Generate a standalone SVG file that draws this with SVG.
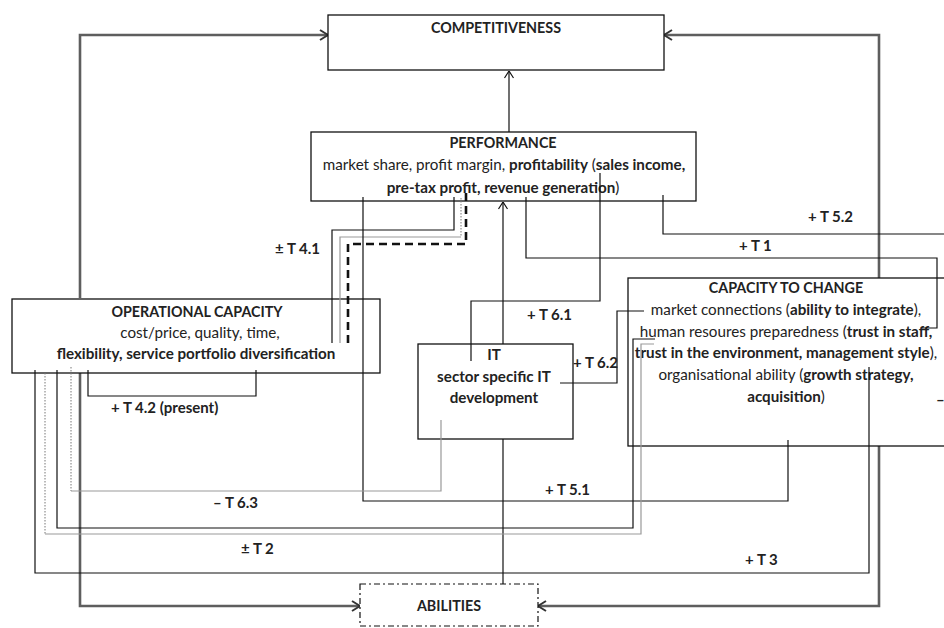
<svg xmlns="http://www.w3.org/2000/svg" width="944" height="628" viewBox="0 0 944 628">
<style>
.box{fill:#fff;stroke:#111;stroke-width:1.3}
.t{font-family:Lato,"Liberation Sans",sans-serif;font-size:15.2px;fill:#222;text-anchor:middle}
.h{font-size:14.3px;font-weight:bold}
.b{font-weight:bold}
.lbl{font-family:Lato,"Liberation Sans",sans-serif;font-size:15px;font-weight:bold;fill:#222}
.c{fill:none;stroke:#111;stroke-width:1.2}
.g{fill:none;stroke:#999;stroke-width:1.2}
.d{fill:none;stroke:#777;stroke-width:1;stroke-dasharray:1.5 1.5}
.big{fill:none;stroke:#5e5e5e;stroke-width:2.6}
.dash{fill:none;stroke:#111;stroke-width:2.6;stroke-dasharray:8 5}
</style>
<defs>
<marker id="bigArrow" viewBox="0 0 10 12" refX="9" refY="6" markerWidth="10" markerHeight="12" markerUnits="userSpaceOnUse" orient="auto">
<path d="M1,1 L9,6 L1,11" fill="none" stroke="#333" stroke-width="2"/>
</marker>
<marker id="thinArrow" viewBox="0 0 8 10" refX="7.5" refY="5" markerWidth="8" markerHeight="10" markerUnits="userSpaceOnUse" orient="auto">
<path d="M0.5,0.5 L7.5,5 L0.5,9.5" fill="none" stroke="#111" stroke-width="1.2"/>
</marker>
</defs>
<rect width="944" height="628" fill="#fff"/>

<g id="feedback-loops">
<path class="big" d="M80,298 L80,35 L328,35" marker-end="url(#bigArrow)"/>
<path class="big" d="M80,373 L80,606 L360,606" marker-end="url(#bigArrow)"/>
<path class="big" d="M879,278 L879,35 L664,35" marker-end="url(#bigArrow)"/>
<path class="big" d="M879,446 L879,606 L538,606" marker-end="url(#bigArrow)"/>
</g>

<g id="competitiveness">
<rect class="box" x="328" y="15" width="336" height="55"/>
<text class="t h" x="496" y="33">COMPETITIVENESS</text>
</g>

<g id="performance">
<rect class="box" x="311" y="132" width="385" height="69"/>
<text class="t h" x="503" y="148">PERFORMANCE</text>
<text class="t" x="504" y="170">market share, profit margin, <tspan class="b">profitability</tspan> (<tspan class="b">sales income,</tspan></text>
<text class="t" x="503" y="193"><tspan class="b">pre-tax profit, revenue generation</tspan>)</text>
</g>

<g id="operational-capacity">
<rect class="box" x="12" y="299" width="368" height="74"/>
<text class="t h" x="197" y="317">OPERATIONAL CAPACITY</text>
<text class="t" x="200" y="338">cost/price, quality, time,</text>
<text class="t b" x="196" y="359">flexibility, service portfolio diversification</text>
</g>

<g id="it">
<rect class="box" x="418" y="344" width="155" height="95"/>
<text class="t b" x="494" y="360">IT</text>
<text class="t b" x="494" y="382">sector specific IT</text>
<text class="t b" x="494" y="403">development</text>
</g>

<g id="capacity-to-change">
<rect class="box" x="628" y="278" width="330" height="168"/>
<text class="t h" x="786" y="293">CAPACITY TO CHANGE</text>
<text class="t" x="786" y="315">market connections (<tspan class="b">ability to integrate</tspan>),</text>
<text class="t" x="786" y="337">human resoures preparedness (<tspan class="b">trust in staff,</tspan></text>
<text class="t" x="786" y="358"><tspan class="b">trust in the environment, management style</tspan>),</text>
<text class="t" x="786" y="380">organisational ability (<tspan class="b">growth strategy,</tspan></text>
<text class="t" x="786" y="402"><tspan class="b">acquisition</tspan>)</text>
</g>

<g id="abilities">
<rect x="360" y="584" width="178" height="42" fill="#fff" stroke="#111" stroke-width="1.2" stroke-dasharray="6 3 2 3"/>
<text class="t h" x="449" y="611">ABILITIES</text>
</g>

<g id="connectors">
<path class="c" d="M509,132 L509,71" marker-end="url(#thinArrow)"/>
<path class="c" d="M503,344 L503,202" marker-end="url(#thinArrow)"/>
<path class="c" d="M503,439 L503,584"/>
<path class="c" d="M663,195 L663,234 L944,234"/>
<path class="c" d="M526,197 L526,258 L937,258 L937,328 L922,328"/>
<path class="c" d="M600,173 L600,301 L471,301 L471,361"/>
<path class="c" d="M560,383 L617,383 L617,311 L644,311"/>
<path class="c" d="M454,197 L454,230 L332,230 L332,343"/>
<path class="d" d="M461,198 L461,237"/>
<path class="g" d="M461,237 L340,237 L340,343"/>
<path class="dash" d="M466,193 L466,244 L348,244 L348,343"/>
<path class="c" d="M88,370 L88,396 L256,396 L256,370"/>
<path class="c" d="M363,197 L363,501 L788,501 L788,440"/>
<path class="d" d="M71,367 L71,491"/>
<path class="g" d="M71,491 L441,491 L441,420"/>
<path class="c" d="M57,370 L57,528 L633,528 L633,339 L655,339"/>
<path class="d" d="M45,373 L45,534"/>
<path class="g" d="M45,534 L641,534 L641,344 L654,344"/>
<path class="c" d="M869,367 L869,573 L35,573 L35,370"/>
</g>

<g id="labels">
<text class="lbl" x="808" y="222">+ T 5.2</text>
<text class="lbl" x="739" y="251">+ T 1</text>
<text class="lbl" x="275" y="254">± T 4.1</text>
<text class="lbl" x="527" y="320">+ T 6.1</text>
<text class="lbl" x="573" y="368">+ T 6.2</text>
<text class="lbl" x="111" y="413">+ T 4.2 (present)</text>
<text class="lbl" x="213" y="508">– T 6.3</text>
<text class="lbl" x="545" y="495">+ T 5.1</text>
<text class="lbl" x="241" y="554">± T 2</text>
<text class="lbl" x="745" y="565">+ T 3</text>
<text class="lbl" x="936" y="405">–</text>
</g>
</svg>
